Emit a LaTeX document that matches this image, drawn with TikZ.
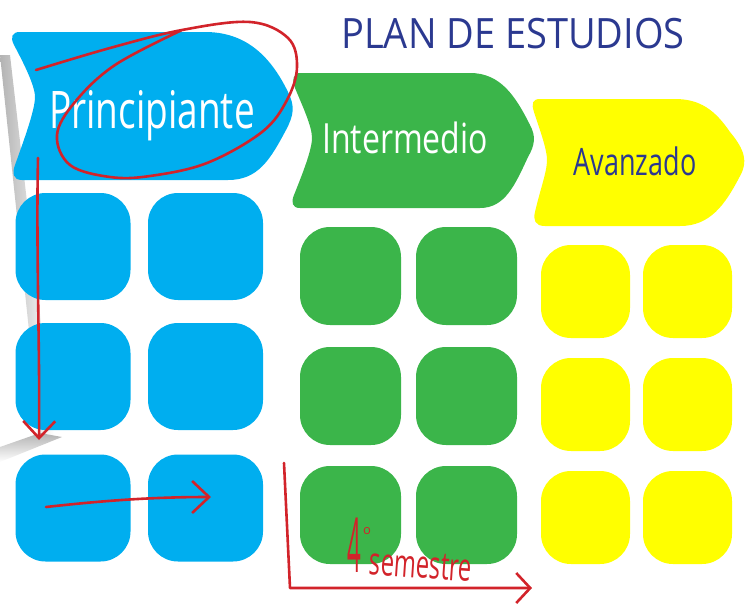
\documentclass[tikz,border=0pt]{standalone}
\usepackage{fontspec}
\setmainfont{Open Sans}
\usetikzlibrary{arrows.meta}
\definecolor{beginblue}{HTML}{00AEEF}
\definecolor{midgreen}{HTML}{3BB54A}
\definecolor{topyellow}{HTML}{FFFF00}
\definecolor{titleblue}{HTML}{2B3990}
\definecolor{penred}{HTML}{D2232A}
\tikzset{
  tile/.style={shape=rectangle, rounded corners=30pt, inner sep=0pt},
  bluetile/.style={tile, fill=beginblue, minimum width=115pt, minimum height=107pt},
  greentile/.style={tile, fill=midgreen, minimum width=101pt, minimum height=98pt},
  yellowtile/.style={tile, fill=topyellow, minimum width=89pt, minimum height=93pt},
  pen/.style={draw=penred, line width=2.6pt, line cap=round, line join=round},
  barb/.style={-{Straight Barb[length=17pt, width=32pt, line width=2.6pt]}},
}
\newcommand{\tall}[2]{\scalebox{1}[#1]{#2}}
\begin{document}
\begin{tikzpicture}[x=1pt, y=-1pt]
\useasboundingbox (0,0) rectangle (749,603);
% page shadow on the left
\shade[left color=gray!60, right color=white] (0,55) -- (40,435) -- (54,435) -- (10,55) -- cycle;
\shade[top color=gray!60, bottom color=white] (0,447) -- (40,433) -- (62,437) -- (0,462) -- cycle;
% level headers
\fill[beginblue] (20,32) -- (205,32) .. controls (245,32) and (270,55) .. (288,92) .. controls (295,106) and (294,115) .. (286,130) .. controls (270,160) and (258,180) .. (228,180) -- (22,180) .. controls (13,180) and (12,173) .. (15,165) .. controls (24,140) and (35,110) .. (35,97) .. controls (35,85) and (22,60) .. (14,45) .. controls (10,37) and (12,32) .. (20,32) -- cycle;
\fill[midgreen] (300,73) -- (470,73) .. controls (500,73) and (515,95) .. (530,125) .. controls (536,136) and (535,145) .. (528,157) .. controls (515,185) and (505,208) .. (480,208) -- (300,208) .. controls (292,208) and (291,202) .. (294,195) .. controls (302,175) and (312,150) .. (312,138) .. controls (312,126) and (302,105) .. (295,88) .. controls (292,80) and (293,73) .. (300,73) -- cycle;
\fill[topyellow] (540,99) -- (675,99) .. controls (700,99) and (715,110) .. (730,132) .. controls (745,150) and (748,162) .. (740,176) .. controls (725,205) and (710,226) .. (680,226) -- (545,226) .. controls (535,226) and (533,220) .. (535,212) .. controls (540,190) and (547,172) .. (547,160) .. controls (547,148) and (538,125) .. (534,112) .. controls (531,103) and (533,99) .. (540,99) -- cycle;
\node[text=titleblue, anchor=base, font=\fontsize{38}{38}\selectfont] (title) at (513,48) {\tall{1.1}{PLAN DE ESTUDIOS}};
\node[text=white, anchor=base, font=\fontsize{37}{37}\selectfont] (begin) at (152,128) {\tall{1.4}{Principiante}};
\node[text=white, anchor=base, font=\fontsize{32}{32}\selectfont] (mid) at (405,153) {\tall{1.3}{Intermedio}};
\node[text=titleblue, anchor=base, font=\fontsize{27}{27}\selectfont] (top) at (635,175) {\tall{1.4}{Avanzado}};
% blue tiles
\node[bluetile] (b11) at (73,246.5) {};
\node[bluetile] (b12) at (205.5,246.5) {};
\node[bluetile] (b21) at (73,376.5) {};
\node[bluetile] (b22) at (205.5,376.5) {};
\node[bluetile] (b31) at (73,508) {};
\node[bluetile] (b32) at (205.5,508) {};
% green tiles
\node[greentile] (g11) at (350.5,276) {};
\node[greentile] (g12) at (466.5,276) {};
\node[greentile] (g21) at (350.5,396) {};
\node[greentile] (g22) at (466.5,396) {};
\node[greentile] (g31) at (350.5,515) {};
\node[greentile] (g32) at (466.5,515) {};
% yellow tiles
\node[yellowtile] (y11) at (585.5,291.5) {};
\node[yellowtile] (y12) at (687.5,291.5) {};
\node[yellowtile] (y21) at (585.5,404.5) {};
\node[yellowtile] (y22) at (687.5,404.5) {};
\node[yellowtile] (y31) at (585.5,517.5) {};
\node[yellowtile] (y32) at (687.5,517.5) {};
% red pen notes
\draw[pen] plot[smooth, tension=0.6] coordinates {(36,70) (110,48) (182,30) (250,22) (288,38) (297,67) (287,100) (262,132) (207,163) (150,176) (110,177) (70,165) (57,135) (75,102) (115,65) (182,30)};
\coordinate (downstart) at (38,158);
\coordinate (downend) at (39,440);
\coordinate (rightstart) at (46,507);
\coordinate (rightend) at (211,497);
\coordinate (axtop) at (284,463);
\coordinate (axcorner) at (290,588);
\coordinate (axend) at (532,588);
\draw[pen, barb] (downstart) .. controls (36,250) and (40,350) .. (downend);
\draw[pen, barb] (rightstart) .. controls (100,501) and (150,497) .. (rightend);
\draw[pen, -{Straight Barb[length=14pt, width=30pt, line width=2.6pt]}] (axtop) -- (axcorner) -- (axend);
\node[text=penred, anchor=base, inner sep=0pt, font=\fontsize{40}{40}\selectfont] (four) at (354,572) {\scalebox{0.6}[1.9]{4}};
\node[text=penred, inner sep=0pt, font=\fontsize{13}{13}\selectfont] (deg) at (367,531) {o};
\node[text=penred, anchor=base, inner sep=0pt, rotate=-4, font=\fontsize{25}{25}\selectfont] (sem) at (420,578) {\scalebox{0.95}[1.55]{semestre}};
\end{tikzpicture}
\end{document}
